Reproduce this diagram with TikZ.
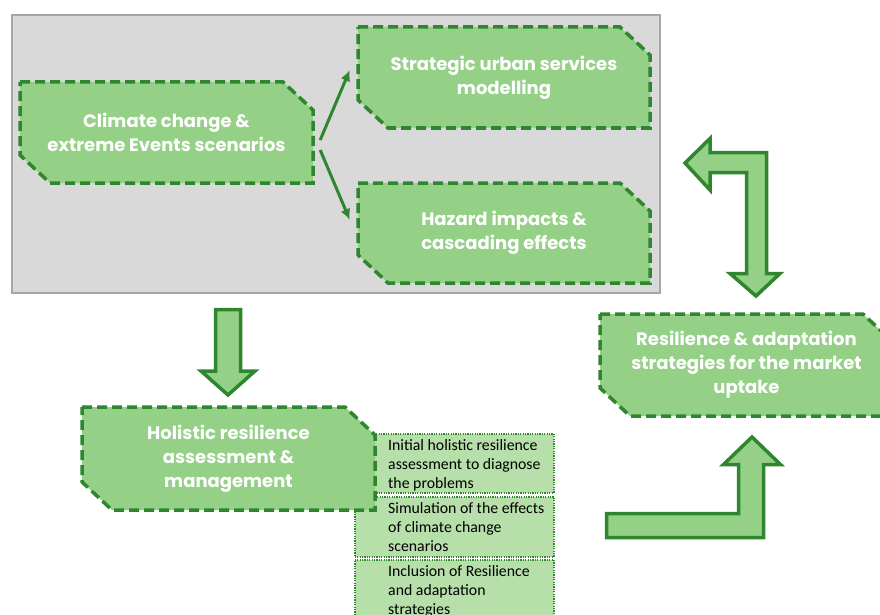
\documentclass[tikz,border=0pt]{standalone}
\usepackage{fontspec}
\setmainfont{Poppins}
\newfontfamily\notefont{Carlito}
\usetikzlibrary{arrows.meta}

\definecolor{boxfill}{HTML}{95D087}
\definecolor{boxline}{HTML}{2E872E}
\definecolor{notefill}{HTML}{B6DFA9}
\definecolor{panelfill}{HTML}{D9D9D9}
\definecolor{panelline}{HTML}{A6A6A6}

\tikzset{
  snipline/.style={fill=boxfill, draw=boxline, line width=3.5pt, dash pattern=on 10pt off 5pt},
  sniptext/.style={rectangle, inner sep=0pt, align=center, text=white,
    font=\bfseries\fontsize{18}{24}\selectfont},
  notebox/.style={rectangle, fill=notefill, draw=boxline, line width=1.5pt,
    dash pattern=on 1.2pt off 1.2pt, minimum width=199pt, minimum height=60pt, anchor=north west},
  notetext/.style={anchor=north west, align=left, inner sep=0pt,
    font=\notefont\fontsize{15.8}{19}\selectfont},
  thinarrow/.style={draw=boxline, line width=3pt, -{Latex[length=11pt,width=10pt]}},
  blockarrow/.style={fill=boxfill, draw=boxline, line width=3.5pt, line join=miter}
}

% box with the north east and south west corners cut off
% #1 name, #2 x, #3 y, #4 width, #5 height, #6 text
\newcommand\snipnode[6]{%
  \pgfmathsetmacro\snL{#2-#4/2}\pgfmathsetmacro\snR{#2+#4/2}%
  \pgfmathsetmacro\snT{#3-#5/2}\pgfmathsetmacro\snB{#3+#5/2}%
  \draw[snipline] (\snL,\snT) -- (\snR-30,\snT) -- (\snR,\snT+28) -- (\snR,\snB)
    -- (\snL+30,\snB) -- (\snL,\snB-28) -- cycle;
  \node[sniptext, minimum width=#4pt, minimum height=#5pt] (#1) at (#2,#3) {#6};
}

\begin{document}
\begin{tikzpicture}[x=1pt,y=-1pt]
\useasboundingbox (0,0) rectangle (880,615);

% grey panel
\draw[fill=panelfill, draw=panelline, line width=2pt] (12,15) rectangle (660,293);

\snipnode{climate}{166.5}{132.5}{293}{101}{Climate change \&\\extreme Events scenarios}
\snipnode{urban}{504}{77.5}{292}{101}{Strategic urban services\\modelling}
\snipnode{hazard}{504}{233}{292}{100}{Hazard impacts \&\\cascading effects}

\draw[thinarrow] ([xshift=7pt,yshift=-7.5pt]climate.east) -- ([xshift=-8pt,yshift=7.5pt]urban.west);
\draw[thinarrow] ([xshift=7pt,yshift=-17.5pt]climate.east) -- ([xshift=-8pt,yshift=13pt]hazard.west);

% notes under the holistic box
\node[notebox, minimum height=59pt] (initial) at (354,433) {};
\node[notebox] (simul) at (354,496) {};
\node[notebox, minimum height=64pt] (inclus) at (354,559) {};
\node[notetext] at ([xshift=34pt,yshift=-6pt]initial.north west) {Initial holistic resilience\\assessment to diagnose\\the problems};
\node[notetext] at ([xshift=34pt,yshift=-6pt]simul.north west) {Simulation of the effects\\of climate change\\scenarios};
\node[notetext] at ([xshift=34pt,yshift=-6pt]inclus.north west) {Inclusion of Resilience\\and adaptation\\strategies};

\snipnode{holistic}{228.5}{458.5}{293}{103}{Holistic resilience\\assessment \&\\management}
\snipnode{market}{746.5}{365}{293}{102}{Resilience \& adaptation\\strategies for the market\\uptake}

% block arrows
\draw[blockarrow] (215.5,309.5) -- (240.5,309.5) -- (240.5,371) -- (255,371) -- (228,395)
  -- (201,371) -- (215.5,371) -- cycle;
\draw[blockarrow] (710,152.5) -- (766.5,152.5) -- (766.5,273.5) -- (780,273.5) -- (756,296)
  -- (730,273.5) -- (746.5,273.5) -- (746.5,172.5) -- (710,172.5) -- (710,190)
  -- (685,163) -- (710,138.5) -- cycle;
\draw[blockarrow] (606.5,537.5) -- (606.5,513.5) -- (738.5,513.5) -- (738.5,464.5)
  -- (723.5,464.5) -- (752,437) -- (780.5,464.5) -- (763.5,464.5) -- (763.5,537.5) -- cycle;

\end{tikzpicture}
\end{document}
